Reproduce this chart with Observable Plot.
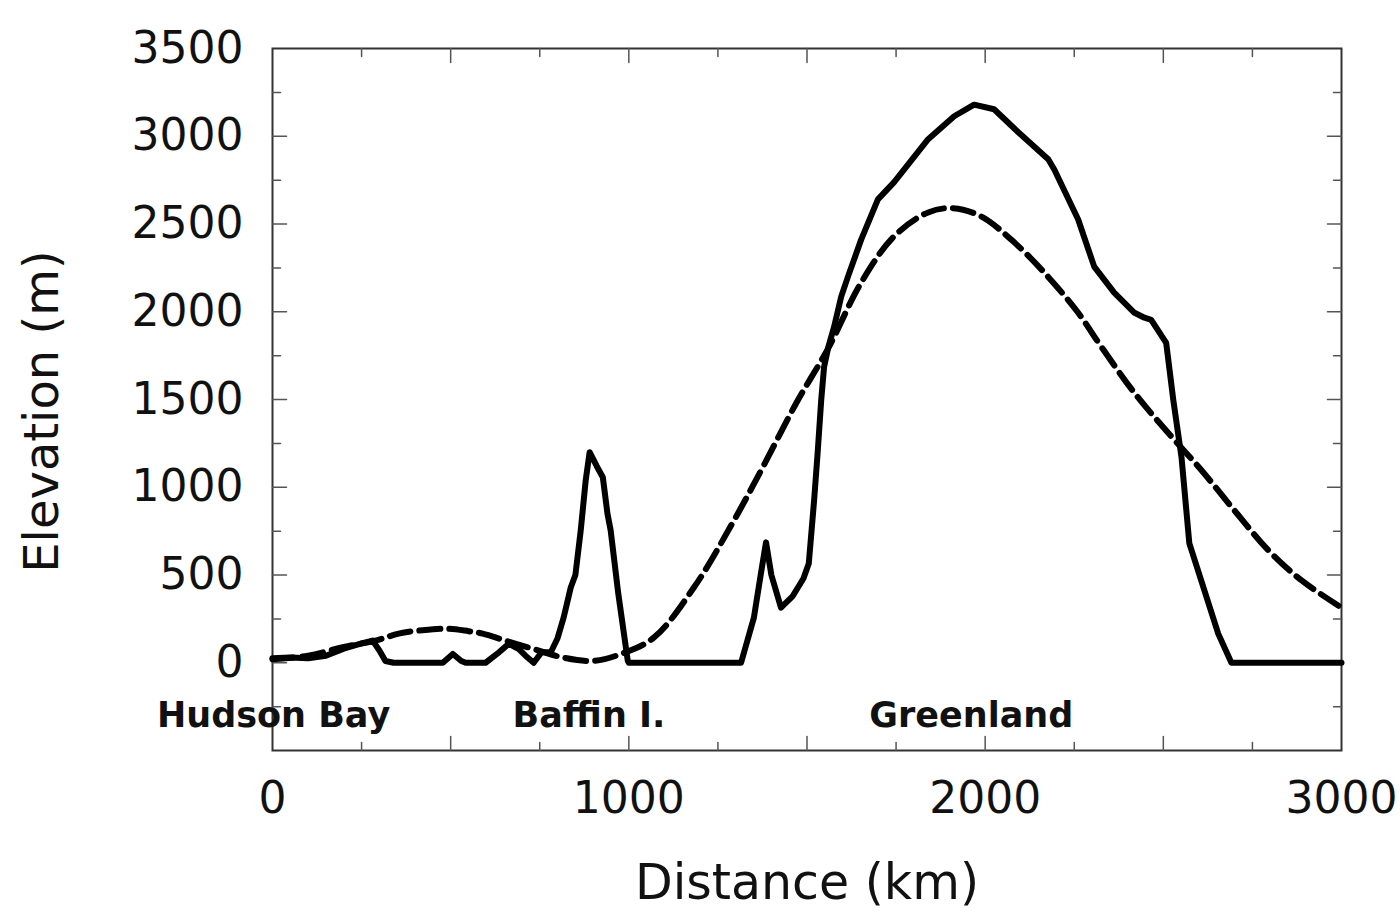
<!DOCTYPE html>
<html><head><meta charset="utf-8">
<script src="https://cdn.jsdelivr.net/npm/d3@7"></script>
<script src="https://cdn.jsdelivr.net/npm/@observablehq/plot@0.6"></script>
<style>html,body{margin:0;padding:0;background:#fff;} #chart{width:1400px;height:923px;}</style>
</head><body><div id="chart"></div>
<script>
// Actual surface elevation profile (solid line)
const surfaceDistance = [0, 50, 100, 150, 200, 250, 281, 300, 317, 340, 478, 506, 530, 542, 598, 630, 663, 690, 710, 733, 755, 781, 800, 817, 837, 850, 865, 879, 890, 910, 927, 940, 949, 970, 997, 1000, 1315, 1351, 1370, 1385, 1400, 1427, 1460, 1490, 1505, 1520, 1530, 1540, 1548, 1560, 1576, 1596, 1615, 1652, 1699, 1744, 1840, 1913, 1969, 2025, 2093, 2177, 2194, 2261, 2306, 2362, 2419, 2447, 2466, 2508, 2528, 2551, 2573, 2654, 2691, 3000];
const surfaceElevation = [25, 30, 25, 40, 80, 110, 126, 70, 10, 0, 0, 50, 10, 0, 0, 50, 108, 80, 40, 0, 60, 60, 140, 257, 429, 500, 754, 1040, 1200, 1120, 1057, 850, 754, 400, 11, 0, 0, 257, 500, 686, 500, 314, 380, 480, 566, 926, 1200, 1500, 1686, 1800, 1914, 2086, 2200, 2411, 2640, 2737, 2983, 3114, 3180, 3154, 3023, 2869, 2811, 2526, 2257, 2109, 1994, 1966, 1954, 1823, 1497, 1171, 680, 166, 0, 0];
// Smoothed model topography (dashed line)
const smoothDistance = [0, 100, 200, 289, 354, 420, 492, 550, 590, 654, 730, 817, 902, 978, 1070, 1183, 1295, 1380, 1470, 1559, 1652, 1744, 1840, 1910, 1989, 2073, 2166, 2261, 2326, 2419, 2514, 2607, 2699, 2795, 2888, 3000];
const smoothElevation = [20, 40, 90, 126, 166, 185, 194, 180, 166, 126, 80, 29, 11, 50, 143, 430, 811, 1130, 1480, 1790, 2166, 2429, 2566, 2590, 2543, 2411, 2223, 1994, 1800, 1537, 1309, 1097, 869, 640, 469, 314];
// Region labels
const regionNames = ["Hudson Bay", "Baffin I.", "Greenland"];
const regionDistance = [3, 888, 1961];
const regionElevation = [-300, -300, -300];
// Ticks
const xTickLabels = [0, 1000, 2000, 3000];
const yTickLabels = [0, 500, 1000, 1500, 2000, 2500, 3000, 3500];
const xMajorTicks = [500, 1000, 1500, 2000, 2500];
const xMinorTicks = [250, 750, 1250, 1750, 2250, 2750];
const yMajorTicks = [0, 500, 1000, 1500, 2000, 2500, 3000];
const yMinorTicks = [-250, 250, 750, 1250, 1750, 2250, 2750, 3250];

const surface = surfaceDistance.map((d, i) => ({d, e: surfaceElevation[i]}));
const smooth = smoothDistance.map((d, i) => ({d, e: smoothElevation[i]}));
const regions = regionNames.map((n, i) => ({n, d: regionDistance[i], e: regionElevation[i]}));

const tickShape = {draw(ctx, l) { ctx.moveTo(0, 0); ctx.lineTo(0, -l); }};
const tickColor = "#555";
function xTicks(data, len, anchor, rot) {
  return Plot.vector(data, {x: d => d, frameAnchor: anchor, rotate: rot, length: len, anchor: "start", shape: tickShape, stroke: tickColor, strokeWidth: 1.5});
}
function yTicks(data, len, anchor, rot) {
  return Plot.vector(data, {y: d => d, frameAnchor: anchor, rotate: rot, length: len, anchor: "start", shape: tickShape, stroke: tickColor, strokeWidth: 1.5});
}
const font = "DejaVu Sans";

const chart = Plot.plot({
  width: 1400,
  height: 923,
  marginLeft: 272,
  marginRight: 59,
  marginTop: 48,
  marginBottom: 173,
  style: {fontFamily: font, background: "#fff", color: "#111"},
  x: {domain: [0, 3000], axis: null},
  y: {domain: [-500, 3500], axis: null},
  marks: [
    Plot.frame({stroke: "#333", strokeWidth: 2}),
    xTicks(xMajorTicks, 14, "bottom", 0),
    xTicks(xMinorTicks, 8, "bottom", 0),
    xTicks(xMajorTicks, 14, "top", 180),
    xTicks(xMinorTicks, 8, "top", 180),
    yTicks(yMajorTicks, 14, "left", 90),
    yTicks(yMinorTicks, 8, "left", 90),
    yTicks(yMajorTicks, 14, "right", -90),
    yTicks(yMinorTicks, 8, "right", -90),
    Plot.line(smooth, {x: "d", y: "e", stroke: "#000", strokeWidth: 6, strokeDasharray: "21,9", curve: "catmull-rom"}),
    Plot.line(surface, {x: "d", y: "e", stroke: "#000", strokeWidth: 6, strokeLinejoin: "round"}),
    Plot.text(regions, {x: "d", y: "e", text: "n", fontSize: 35, fontWeight: "bold", fill: "#111"}),
    Plot.text(xTickLabels, {x: d => d, frameAnchor: "bottom", dy: 62, text: d => String(d), fontSize: 44, fill: "#111"}),
    Plot.text(yTickLabels, {y: d => d, frameAnchor: "left", dx: -29, textAnchor: "end", text: d => String(d), fontSize: 44, fill: "#111"}),
    Plot.text(["Distance (km)"], {frameAnchor: "bottom", textAnchor: "middle", dy: 148, fontSize: 49, fill: "#111"}),
    Plot.text(["Elevation (m)"], {frameAnchor: "left", textAnchor: "middle", dx: -230, dy: 12, rotate: -90, fontSize: 48, fill: "#111"})
  ]
});
document.getElementById("chart").appendChild(chart);
</script>
</body></html>
